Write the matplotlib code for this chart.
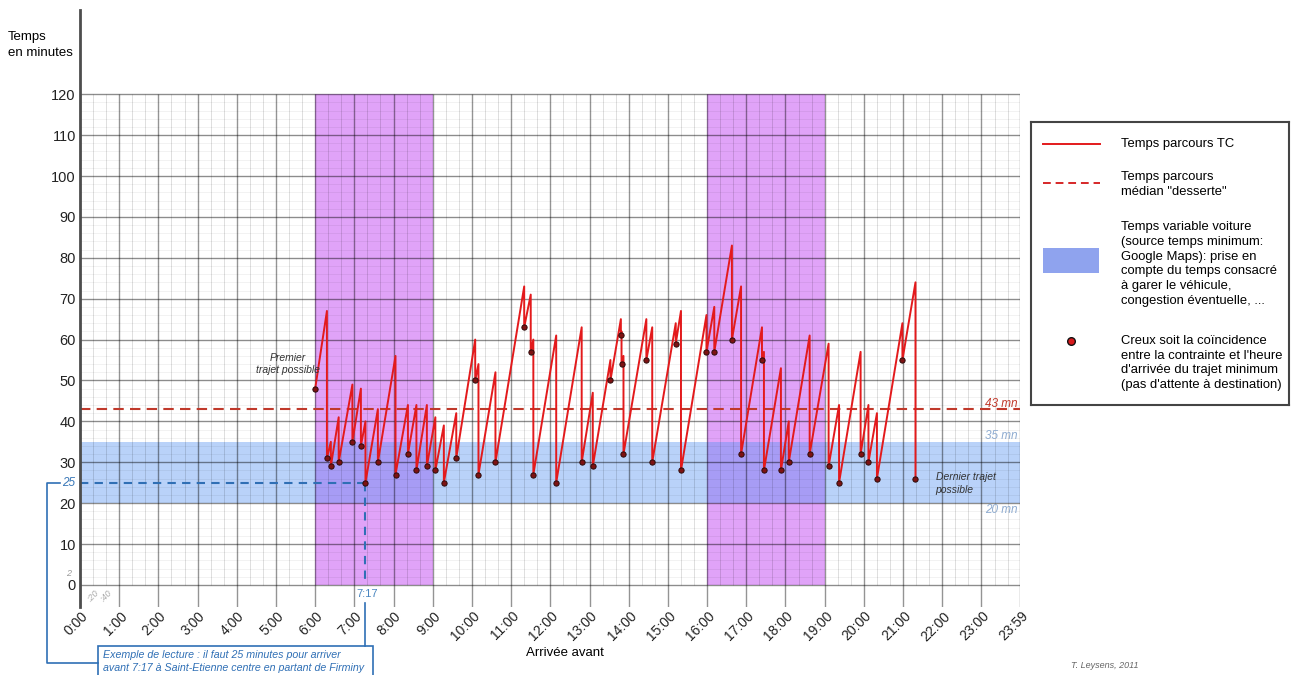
import matplotlib.pyplot as plt
from matplotlib.patches import Rectangle
import matplotlib.transforms as mtransforms

# arrival times of the "dips" (minimum travel time)
dip_times = ["6:00", "6:18", "6:24", "6:36", "6:57", "7:10", "7:17", "7:36", "8:03", "8:22",
             "8:35", "8:51", "9:04", "9:17", "9:36", "10:05", "10:10", "10:36", "11:20", "11:30",
             "11:34", "12:09", "12:48", "13:05", "13:32", "13:48", "13:49", "13:52", "14:27", "14:36",
             "15:12", "15:20", "15:59", "16:11", "16:38", "16:52", "17:24", "17:27", "17:53", "18:05",
             "18:37", "19:06", "19:22", "19:55", "20:07", "20:20", "20:59", "21:19"]
dip_values = [48, 31, 29, 30, 35, 34, 25, 30, 27, 32,
              28, 29, 28, 25, 31, 50, 27, 30, 63, 57,
              27, 25, 30, 29, 50, 61, 54, 32, 55, 30,
              59, 28, 57, 57, 60, 32, 55, 28, 28, 30,
              32, 29, 25, 32, 30, 26, 55, 26]
# travel time just before the drop to each dip
peak_values = [None, 67, 35, 41, 49, 48, 40, 43, 56, 44,
               44, 44, 41, 39, 42, 60, 54, 52, 73, 71,
               60, 61, 63, 47, 55, 65, 62, 56, 65, 63,
               64, 67, 66, 68, 83, 73, 63, 57, 53, 40,
               61, 59, 44, 57, 44, 42, 64, 74]

rush_periods = [("6:00", "9:00"), ("16:00", "19:00")]
car_time_min = 20
car_time_max = 35
median_time = 43
example_time = "7:17"
example_value = 25
hour_labels = ["%d:00" % h for h in range(24)] + ["23:59"]
y_ticks = list(range(0, 121, 10))


def minutes(s):
	h, m = s.split(":")
	return int(h) * 60 + int(m)


plt.rcParams['font.family'] = ['Liberation Sans', 'DejaVu Sans']

W, H = 1292, 675
fig = plt.figure(figsize=(W / 100, H / 100), dpi=100)
ax = fig.add_axes([80 / W, 68 / H, 940 / W, 597 / H])

hour_ticks = [minutes(l) for l in hour_labels]
x_end = hour_ticks[-1]
ymin, ymax = -5.4, 140.6
ax.set_xlim(0, x_end)
ax.set_ylim(ymin, ymax)

# background zones
for start, end in rush_periods:
	ax.fill_betweenx([0, 120], minutes(start), minutes(end), color='#e0a3f8', lw=0, zorder=0)
ax.fill_between([0, x_end], car_time_min, car_time_max, color='#5894f3', alpha=0.42, lw=0, zorder=0.5)

# grid (translucent so it stays visible over the coloured zones)
ax.hlines(range(0, 121, 2), 0, x_end, color=(0, 0, 0, 0.06), lw=0.6, zorder=1)
ax.vlines([m for m in range(20, x_end, 20) if m % 60], 0, 120, color=(0, 0, 0, 0.13), lw=0.7, zorder=1)
ax.hlines(y_ticks, 0, x_end, color=(0, 0, 0, 0.42), lw=1, zorder=1.2)
ax.vlines(hour_ticks, ymin, 120, color=(0, 0, 0, 0.42), lw=1, zorder=1.2)

# sawtooth travel time curve
t = [minutes(s) for s in dip_times]
xs, ys = [t[0]], [dip_values[0]]
for i in range(1, len(t)):
	xs += [t[i], t[i]]
	ys += [peak_values[i], dip_values[i]]
ax.plot(xs, ys, color='#e31a1c', lw=1.4, zorder=3)
ax.plot(t, dip_values, 'o', ms=3.8, mfc='#7d1212', mec='#2b0a0a', mew=0.7, zorder=4)

# median
ax.plot([0, x_end], [median_time, median_time], color='#c0392b', lw=1.5, ls=(0, (5, 3)), zorder=2)
ax.text(1435, median_time + 1.3, "%d mn" % median_time, color='#c0392b', style='italic',
        fontsize=8.5, ha='right', va='center')
ax.text(1435, car_time_max + 1.5, "%d mn" % car_time_max, color='#8eabd0', style='italic',
        fontsize=8.5, ha='right', va='center')
ax.text(1435, car_time_min - 1.8, "%d mn" % car_time_min, color='#8eabd0', style='italic',
        fontsize=8.5, ha='right', va='center')

# reading example
blue = '#2f6fb5'
tx = minutes(example_time)
ax.plot([0, tx], [example_value, example_value], color=blue, lw=1.5, ls=(0, (4, 3)), zorder=2.5)
ax.plot([tx, tx], [example_value, 0], color=blue, lw=1.5, ls=(0, (4, 3)), zorder=2.5)
ax.text(tx + 3, -2.1, example_time, color='#4a86c0', fontsize=8, ha='center', va='center')
ax.plot([tx, tx], [-4.4, -14.9], color=blue, lw=1.2, clip_on=False)
ax.text(-17, example_value, str(example_value), color='#3a78b8', style='italic', fontsize=8.5,
        ha='center', va='center')
ax.plot([-31, -51, -51, 27], [example_value, example_value, -19.2, -19.2], color=blue, lw=1.2,
        clip_on=False)
ax.add_patch(Rectangle((27, -23.5), 421, 8.6, fill=False, ec=blue, lw=1.2, clip_on=False))
ax.text(35, -18.7, "Exemple de lecture : il faut 25 minutes pour arriver\n"
        "avant 7:17 à Saint-Etienne centre en partant de Firminy",
        color=blue, style='italic', fontsize=7.7, ha='left', va='center', linespacing=1.4)

ax.text(318, 54, "Premier\ntrajet possible", color='#333333', style='italic', fontsize=7.5,
        ha='center', va='center', linespacing=1.3)
ax.text(1310, 24.8, "Dernier trajet\npossible", color='#333333', style='italic', fontsize=7.5,
        ha='left', va='center', linespacing=1.3)

# small gray marks for minor grid
lt = mtransforms.blended_transform_factory(ax.transAxes, ax.transData)
ax.text(-0.012, 2.8, "2", transform=lt, color='#9a9a9a', style='italic', fontsize=6.5,
        ha='center', va='center')
ax.text(20, -2.6, ":20", color='#aaaaaa', style='italic', fontsize=6.5, rotation=45,
        ha='center', va='center')
ax.text(40, -2.6, ":40", color='#aaaaaa', style='italic', fontsize=6.5, rotation=45,
        ha='center', va='center')

# axes, ticks
for s in ['top', 'right', 'bottom']:
	ax.spines[s].set_visible(False)
ax.spines['left'].set_color('#4d4d4d')
ax.spines['left'].set_linewidth(2)
ax.set_yticks(y_ticks)
ax.set_yticklabels([str(v) for v in y_ticks], fontsize=10.5, color='#222222')
ax.tick_params(axis='y', length=0, pad=3)
ax.set_xticks(hour_ticks)
ax.set_xticklabels(hour_labels, fontsize=10, color='#222222')
ax.tick_params(axis='x', length=0, pad=5)
offset = mtransforms.ScaledTranslation(4 / 72, 0, fig.dpi_scale_trans)
for lab in ax.get_xticklabels():
	lab.set_rotation(45)
	lab.set_ha('right')
	lab.set_va('center')
	lab.set_rotation_mode('anchor')
	lab.set_transform(lab.get_transform() + offset)

fig.text(8 / W, 1 - 45 / H, "Temps\nen minutes", fontsize=9.5, ha='left', va='center', linespacing=1.4)
fig.text(565 / W, 1 - 653 / H, "Arrivée avant", fontsize=9.5, ha='center', va='center')
fig.text(1105 / W, 1 - 665 / H, "T. Leysens, 2011", fontsize=6.5, style='italic', color='#666666',
         ha='center', va='center')

# legend box (local pixel coordinates)
lg = fig.add_axes([1031 / W, (H - 405) / H, 258 / W, 283 / H])
lg.set_xlim(0, 258)
lg.set_ylim(283, 0)
lg.set_xticks([])
lg.set_yticks([])
for s in lg.spines.values():
	s.set_color('#444444')
	s.set_linewidth(1.5)
lfs = 9.4
lsp = 1.32
lg.plot([12, 69], [22, 22], color='#e31a1c', lw=1.4)
lg.text(90, 22, "Temps parcours TC", fontsize=lfs, va='center')
lg.plot([12, 69], [61, 61], color='#d62728', lw=1.4, ls=(0, (4, 2.5)))
lg.text(90, 62.5, "Temps parcours\nmédian \"desserte\"", fontsize=lfs, va='center', linespacing=lsp)
lg.add_patch(Rectangle((12, 126), 56, 25, color='#8fa3ee', lw=0))
lg.text(90, 142, "Temps variable voiture\n(source temps minimum:\nGoogle Maps): prise en\n"
        "compte du temps consacré\nà garer le véhicule,\ncongestion éventuelle, ...",
        fontsize=lfs, va='center', linespacing=lsp)
lg.plot([40], [219], 'o', ms=5.5, mfc='#d7191c', mec='#111111', mew=1)
lg.text(90, 241, "Creux soit la coïncidence\nentre la contrainte et l'heure\n"
        "d'arrivée du trajet minimum\n(pas d'attente à destination)",
        fontsize=lfs, va='center', linespacing=lsp)

fig.savefig("out.png", dpi=100)
